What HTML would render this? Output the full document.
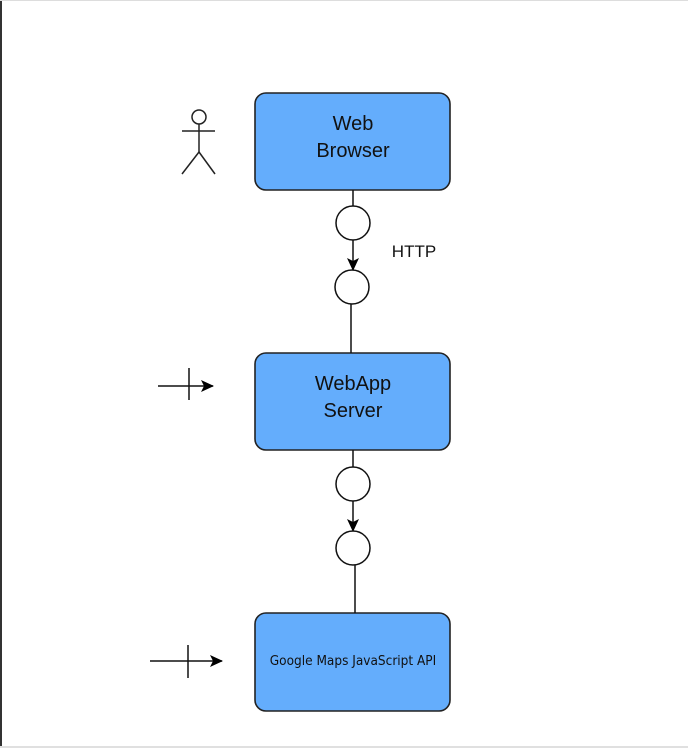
<!DOCTYPE html>
<html><head><style>
html,body{margin:0;padding:0;background:#fff;}
body{width:688px;height:748px;overflow:hidden;}
</style></head><body>
<svg width="688" height="748" viewBox="0 0 688 748" xmlns="http://www.w3.org/2000/svg">
<defs>
<marker id="a" markerWidth="13" markerHeight="12" refX="12" refY="6" orient="auto" markerUnits="userSpaceOnUse">
<path d="M0,0 L13,6 L0,12 L3,6 Z" fill="#000"/>
</marker>
</defs>
<rect x="0" y="0" width="2" height="748" fill="#333"/>
<rect x="0" y="0" width="688" height="1" fill="#ddd"/>
<rect x="0" y="746" width="688" height="2" fill="#e0e0e0"/>
<g stroke="#222" stroke-width="1.5" fill="none">
<circle cx="199" cy="117" r="7"/>
<line x1="182" y1="131" x2="215" y2="131"/>
<line x1="199" y1="124" x2="199" y2="152"/>
<line x1="199" y1="152" x2="182" y2="174"/>
<line x1="199" y1="152" x2="215" y2="174"/>
</g>
<g stroke="#222" stroke-width="1.6" fill="#64adfc">
<rect x="255" y="93" width="195" height="97" rx="11"/>
<rect x="255" y="353" width="195" height="97" rx="11"/>
<rect x="255" y="613" width="195" height="98" rx="11"/>
</g>
<g stroke="#111" stroke-width="1.5" fill="none">
<line x1="353" y1="190" x2="353" y2="206"/>
<line x1="353" y1="240" x2="353" y2="270" marker-end="url(#a)"/>
<line x1="351" y1="304" x2="351" y2="353"/>
<line x1="353" y1="450" x2="353" y2="468"/>
<line x1="353" y1="501" x2="353" y2="531" marker-end="url(#a)"/>
<line x1="355" y1="565" x2="355" y2="613"/>
<line x1="158" y1="386" x2="213" y2="386" marker-end="url(#a)"/>
<line x1="189" y1="368" x2="189" y2="400"/>
<line x1="150" y1="661" x2="222" y2="661" marker-end="url(#a)"/>
<line x1="188" y1="645" x2="188" y2="678"/>
</g>
<g stroke="#111" stroke-width="1.5" fill="#fff">
<circle cx="353" cy="223" r="17"/>
<circle cx="352" cy="287" r="17"/>
<circle cx="353" cy="484" r="17"/>
<circle cx="353" cy="548" r="17"/>
</g>
<g font-family="Liberation Sans, sans-serif" font-size="20" fill="#111" text-anchor="middle">
<text x="353" y="130">Web</text>
<text x="353" y="157">Browser</text>
<text x="353" y="390">WebApp</text>
<text x="353" y="417">Server</text>
</g>
<text x="414" y="257" font-family="Liberation Sans, sans-serif" font-size="17" fill="#111" text-anchor="middle">HTTP</text>
<text x="353" y="665" font-family="DejaVu Sans Condensed, DejaVu Sans, sans-serif" font-size="13.5" fill="#111" text-anchor="middle">Google Maps JavaScript API</text>
</svg>
</body></html>
